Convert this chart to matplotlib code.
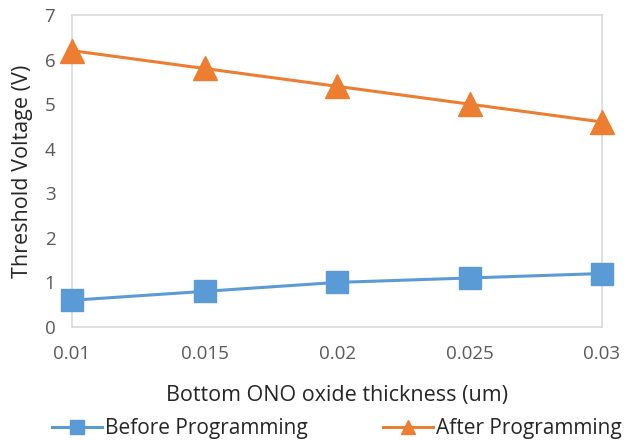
import matplotlib.pyplot as plt

plt.rcParams['font.family'] = ['Open Sans', 'DejaVu Sans']

thickness = [0.01, 0.015, 0.02, 0.025, 0.03]
before_prog = [0.6, 0.8, 1.0, 1.1, 1.2]
after_prog = [6.2, 5.8, 5.4, 5.0, 4.6]
x_ticks = [0.01, 0.015, 0.02, 0.025, 0.03]
x_labels = ["0.01", "0.015", "0.02", "0.025", "0.03"]

blue = "#5B9BD5"
orange = "#ED7D31"
text_gray = "#595959"

fig = plt.figure(figsize=(6.3, 4.4), dpi=100)
ax = fig.add_axes([72 / 630, 1 - 327 / 440, 530 / 630, 312 / 440])

ax.plot(thickness, before_prog, color=blue, lw=2.2, marker="s", ms=16,
        label="Before Programming", clip_on=False, zorder=3)
ax.plot(thickness, after_prog, color=orange, lw=2.2, marker="^", ms=17,
        label="After Programming", clip_on=False, zorder=3)

ax.set_xlim(0.01, 0.03)
ax.set_ylim(0, 7)
ax.set_xticks(x_ticks)
ax.set_xticklabels(x_labels)
ax.set_yticks(range(8))
ax.tick_params(length=0, labelsize=13.5, colors=text_gray, pad=12)
ax.tick_params(axis="x", pad=13)
for s in ax.spines.values():
    s.set_color("#D9D9D9")
    s.set_linewidth(1.2)

ax.set_xlabel("Bottom ONO oxide thickness (um)", fontsize=15.5, color="#262626", labelpad=16)
ax.set_ylabel("Threshold Voltage (V)", fontsize=15.5, color="#262626", labelpad=8)

fig.legend(loc="lower center", bbox_to_anchor=(0.535, -0.04), ncol=2, frameon=False,
           fontsize=15, columnspacing=3.6, handlelength=2.4, handletextpad=0.15,
           labelcolor="#262626", markerscale=0.6)

fig.savefig("out.png", dpi=100)
